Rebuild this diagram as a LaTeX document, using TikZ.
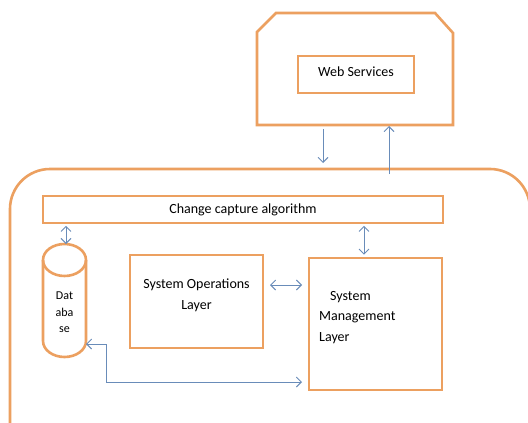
\documentclass[tikz,border=0pt]{standalone}
\usepackage{fontspec}
\setmainfont{Carlito}
\usetikzlibrary{arrows.meta}
\definecolor{borange}{RGB}{236,160,96}
\definecolor{ablue}{RGB}{105,140,185}
\begin{document}
\begin{tikzpicture}[x=1pt,y=-1pt,
  box/.style={draw=borange, line width=2.6pt, inner sep=0pt},
  conn/.style={draw=ablue, line width=0.9pt, -{Straight Barb[length=5pt,width=10pt]}},
  biconn/.style={draw=ablue, line width=0.9pt, {Straight Barb[length=5pt,width=10pt]}-{Straight Barb[length=5pt,width=10pt]}},
  lbl/.style={font=\fontsize{14}{20.5}\selectfont, inner sep=0pt},
  dblbl/.style={font=\fontsize{12}{16.5}\selectfont, inner sep=0pt, align=center}]
\useasboundingbox (0,0) rectangle (528,423);
\fill[white] (0,0) rectangle (528,423);
\clip (0,0) rectangle (528,423);

% outer container
\draw[box, rounded corners=40pt] (10,450) -- (10,169) -- (530,169) -- (530,450);

% web services outer shape
\draw[box, line join=miter] (257,125) -- (257,32) -- (276,13) -- (435,13) -- (453,33) -- (453,125) -- cycle;
\node[box, minimum width=116pt, minimum height=37pt] (ws) at (356,74.5) {};
\node[lbl] (wstxt) at (356,71.5) {Web Services};

% change capture
\node[box, lbl, minimum width=400pt, minimum height=27pt] (cca) at (243,209.5) {Change capture algorithm};

% database cylinder
\draw[box] (64.5,260) ellipse [x radius=21.5, y radius=16];
\draw[box] (43,260) -- (43,341) arc[start angle=180, end angle=0, x radius=21.5, y radius=16] -- (86,260);
\node[dblbl] (db) at (64.5,312.5) {Dat\\aba\\se};
\coordinate (dbtop) at (66,244);
\coordinate (dbside) at (86,344);

% system operations
\node[box, minimum width=133pt, minimum height=93pt] (sol) at (196.5,301.5) {};
\node[lbl, align=center] (soltxt) at (196.5,295.5) {System Operations\\Layer};

% system management
\node[box, minimum width=133pt, minimum height=132pt] (sml) at (375.5,324) {};
\node[lbl, align=left, anchor=north west] (smltxt) at (319,291) {\hspace*{11pt}System\\Management\\Layer};

% connectors
\coordinate (wsdown) at (323,129);
\coordinate (wsup) at (389,126);
\coordinate (ctopA) at (323,163);
\coordinate (ctopB) at (389,174);
\draw[conn] (wsdown) -- (ctopA);
\draw[conn] (ctopB) -- (wsup);
\draw[biconn] (cca.south -| dbtop) ++(0,1.5) -- (dbtop);
\draw[biconn] ([yshift=-1.5pt]cca.south -| 364,0) -- ([yshift=2pt]sml.north -| 364,0);
\draw[biconn] (270,285) -- (302,285);
\draw[biconn] (dbside) -- (106,344) -- (106,382) -- (302,382);
\end{tikzpicture}
\end{document}
